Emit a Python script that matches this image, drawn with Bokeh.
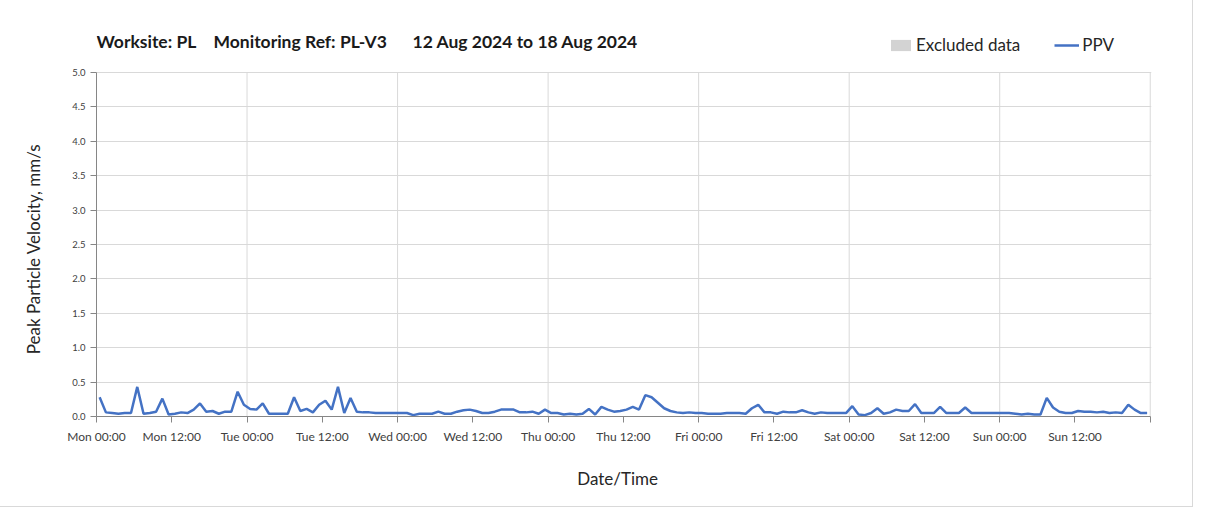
from bokeh.plotting import figure
from bokeh.models import (FixedTicker, Label, Legend, LegendItem, ColumnDataSource)
from bokeh.embed import file_html
from bokeh.resources import INLINE

# ---- data ----
ppv = [0.28, 0.06, 0.05, 0.04, 0.05, 0.05, 0.43, 0.04, 0.05, 0.07, 0.26, 0.03,
       0.04, 0.06, 0.05, 0.10, 0.19, 0.07, 0.08, 0.04, 0.07, 0.07, 0.36, 0.17,
       0.11, 0.10, 0.19, 0.04, 0.04, 0.04, 0.04, 0.28, 0.08, 0.11, 0.06, 0.17,
       0.23, 0.10, 0.43, 0.05, 0.27, 0.07, 0.06, 0.06, 0.05, 0.05, 0.05, 0.05,
       0.05, 0.05, 0.02, 0.04, 0.04, 0.04, 0.07, 0.04, 0.04, 0.07, 0.09, 0.10,
       0.08, 0.05, 0.05, 0.07, 0.10, 0.10, 0.10, 0.06, 0.06, 0.07, 0.04, 0.10,
       0.05, 0.05, 0.03, 0.04, 0.03, 0.04, 0.11, 0.03, 0.14, 0.10, 0.07, 0.08,
       0.10, 0.14, 0.10, 0.31, 0.28, 0.20, 0.12, 0.08, 0.06, 0.05, 0.06, 0.05,
       0.05, 0.04, 0.04, 0.04, 0.05, 0.05, 0.05, 0.04, 0.12, 0.17, 0.06, 0.06,
       0.04, 0.07, 0.06, 0.06, 0.09, 0.06, 0.04, 0.06, 0.05, 0.05, 0.05, 0.05,
       0.15, 0.03, 0.02, 0.05, 0.12, 0.04, 0.06, 0.10, 0.08, 0.08, 0.18, 0.05,
       0.05, 0.05, 0.14, 0.05, 0.05, 0.05, 0.13, 0.05, 0.05, 0.05, 0.05, 0.05,
       0.05, 0.05, 0.04, 0.03, 0.04, 0.03, 0.03, 0.27, 0.13, 0.07, 0.05, 0.05,
       0.08, 0.07, 0.07, 0.06, 0.07, 0.05, 0.06, 0.05, 0.17, 0.10, 0.05, 0.05]
hours = [h + 0.5 for h in range(len(ppv))]   # hourly readings, hours since Mon 00:00

# excluded periods: none in this week
excl_start = [float("nan")]
excl_end = [float("nan")]

tick_hours = list(range(0, 169, 12))
tick_labels = ["Mon 00:00", "Mon 12:00", "Tue 00:00", "Tue 12:00", "Wed 00:00",
               "Wed 12:00", "Thu 00:00", "Thu 12:00", "Fri 00:00", "Fri 12:00",
               "Sat 00:00", "Sat 12:00", "Sun 00:00", "Sun 12:00", ""]
grid_hours = [24, 48, 72, 96, 120, 144, 168]
y_ticks = [0.0, 0.5, 1.0, 1.5, 2.0, 2.5, 3.0, 3.5, 4.0, 4.5, 5.0]
y_max = 5.0

title_parts = ["Worksite: PL", "Monitoring Ref: PL-V3", "12 Aug 2024 to 18 Aug 2024"]

FONT = "Lato"

# frame extended upward so the title/legend (drawn as frame annotations) are not clipped
p = figure(width=1192, height=506, x_range=(0, 168.2), y_range=(0, 5.61),
           output_backend="svg", toolbar_location=None,
           min_border_left=96, min_border_right=41, min_border_top=30,
           min_border_bottom=90, background_fill_color="white",
           border_fill_color="white")
p.styles = {"outline": "1px solid #d9d9d9"}
p.outline_line_color = None

# vertical day grid lines + right border, limited to the value range
p.segment(x0=grid_hours, y0=[0] * len(grid_hours), x1=grid_hours,
          y1=[y_max] * len(grid_hours), line_color="#d9d9d9", line_width=1)

excl_r = p.quad(left=excl_start, right=excl_end, top=[y_max], bottom=[0],
                fill_color="#d3d3d3", line_color=None)
src = ColumnDataSource(dict(x=hours, y=ppv))
line_r = p.line("x", "y", source=src, line_color="#4472C4", line_width=2.5)

# axes
p.xaxis.ticker = FixedTicker(ticks=tick_hours)
p.xaxis.major_label_overrides = {t: l for t, l in zip(tick_hours, tick_labels)}
p.xaxis.bounds = (0, 168)
p.xgrid.visible = False
p.yaxis.ticker = FixedTicker(ticks=y_ticks)
p.yaxis.major_label_overrides = {v: f"{v:.1f}" for v in y_ticks}
p.yaxis.bounds = (0, y_max)

for ax in (p.xaxis[0], p.yaxis[0]):
    ax.axis_line_color = "#868686"
    ax.major_tick_line_color = "#868686"
    ax.major_tick_in = 0
    ax.major_tick_out = 6
    ax.minor_tick_line_color = None
    ax.major_label_text_color = "#404040"
    ax.major_label_text_font = FONT
    ax.axis_label_text_font = FONT
    ax.axis_label_text_font_style = "normal"
    ax.axis_label_text_color = "#262626"
    ax.axis_label_text_font_size = "17px"

p.xaxis.major_label_text_font_size = "12px"
p.yaxis.major_label_text_font_size = "9.5px"
p.xaxis.axis_label = "Date/Time\u2003"
p.yaxis.axis_label = "Peak Particle Velocity, mm/s\u2003\u2003\u2003\u2003"
p.xaxis.major_label_standoff = 6
p.yaxis.major_label_standoff = 5
p.xaxis.axis_label_standoff = 21
p.yaxis.axis_label_standoff = 25

p.ygrid.grid_line_color = "#d9d9d9"
p.ygrid.grid_line_width = 1

# title pieces (frame-relative screen units)
title_x = [0, 117, 316]
for txt, tx in zip(title_parts, title_x):
    p.add_layout(Label(x=tx, y=375, x_units="screen", y_units="screen", text=txt,
                       text_font=FONT, text_font_style="bold",
                       text_font_size="17.5px", text_color="#1a1a1a",
                       text_baseline="middle"))

legend = Legend(items=[LegendItem(label="Excluded data", renderers=[excl_r]),
                       LegendItem(label="PPV", renderers=[line_r])],
                location=(792, 361), orientation="horizontal",
                glyph_width=25, glyph_height=14, label_height=16,
                label_standoff=3, spacing=34, padding=0, margin=0,
                border_line_color=None, background_fill_alpha=0,
                label_text_font=FONT, label_text_font_size="17px",
                label_text_color="#262626")
p.add_layout(legend, "center")

open("out.html", "w").write(file_html(p, INLINE))
